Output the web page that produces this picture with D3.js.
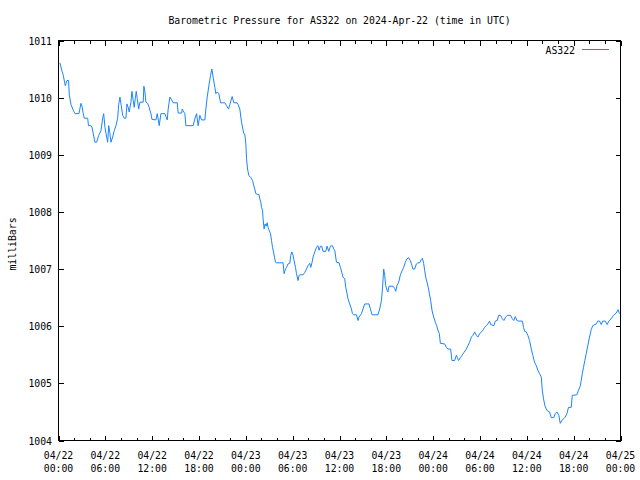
<!DOCTYPE html>
<html><head><meta charset="utf-8">
<script src="https://cdn.jsdelivr.net/npm/d3@7"></script>
<style>body{margin:0;background:#fff}</style>
</head><body>
<svg id="c" width="640" height="480"></svg>
<script>
const title = "Barometric Pressure for AS322 on 2024-Apr-22 (time in UTC)";
const seriesName = "AS322";
const yLabel = "milliBars";
const startUTC = Date.UTC(2024, 3, 22, 0, 0);
const spanHours = 72;
const hours = [0.19,0.38,0.61,0.87,1.09,1.29,1.38,1.6,1.89,2.11,2.62,2.88,3.01,3.17,3.3,3.74,3.84,4.16,4.29,4.45,4.67,4.89,5.15,5.44,5.66,5.79,5.95,6.17,6.3,6.43,6.59,6.72,6.94,7.14,7.36,7.58,7.71,7.87,8.04,8.22,8.42,8.64,8.77,8.93,9.06,9.28,9.41,9.57,9.7,9.83,9.96,10.09,10.27,10.43,10.85,10.94,11.07,11.2,11.42,11.62,11.84,11.97,12.48,12.65,12.9,13.12,13.63,13.76,13.93,14.05,14.27,14.49,14.69,15.21,15.33,15.77,15.85,15.97,16.19,16.32,17.25,17.47,17.69,17.89,18.11,18.33,18.75,18.88,19.05,19.3,19.48,19.65,19.81,20.03,20.16,20.33,20.54,20.76,21.31,21.53,21.79,21.95,22.25,22.46,22.89,23.01,23.23,23.45,23.62,23.74,23.87,24.0,24.09,24.22,24.38,24.64,24.86,25.02,25.15,25.28,25.7,25.79,25.92,26.01,26.14,26.21,26.34,26.47,26.6,26.73,26.85,26.98,27.16,27.29,27.42,27.55,27.67,27.8,27.93,28.77,28.9,29.03,29.21,29.41,29.63,29.76,29.89,30.05,30.18,30.36,30.49,30.69,30.82,31.0,31.33,31.55,31.77,31.97,32.19,32.32,32.49,32.61,32.83,33.05,33.22,33.38,33.56,33.73,33.89,34.24,34.41,34.62,34.84,35.1,35.3,35.39,35.61,35.94,36.12,36.29,36.45,36.67,36.8,36.97,37.09,37.31,37.53,37.66,37.82,38.17,38.37,38.5,38.81,39.01,39.23,39.78,39.96,40.17,40.93,41.15,41.37,41.5,41.66,41.79,41.92,42.09,42.21,42.34,42.85,43.07,43.2,43.37,43.58,43.8,44.06,44.22,44.44,44.65,44.86,45.08,45.29,45.41,45.63,45.85,46.05,46.27,46.49,46.62,46.78,46.91,47.04,47.21,47.42,47.51,47.68,47.85,48.06,48.28,48.45,48.61,48.79,48.92,49.47,49.69,49.89,50.24,50.41,50.75,50.97,51.1,51.26,51.48,51.69,51.94,52.25,52.45,52.67,52.89,53.09,53.31,53.53,53.73,53.95,54.17,54.37,54.59,54.81,55.01,55.23,55.36,55.78,55.96,56.22,56.38,56.64,56.86,57.06,57.28,57.5,57.92,58.14,58.34,58.52,58.73,58.94,59.42,59.58,59.71,59.93,60.13,60.35,60.57,60.77,60.99,61.21,61.41,61.63,61.85,61.98,62.14,62.31,62.49,62.69,62.91,63.13,63.46,63.64,63.85,64.1,64.28,64.49,64.7,64.92,65.13,65.34,65.69,65.82,66.41,66.62,66.84,66.97,67.1,67.26,67.43,67.61,67.81,68.03,68.25,68.45,68.89,69.09,69.31,69.53,69.73,70.04,70.3,70.5,70.81,71.1,71.45,71.69,71.87];
const pressure = [1010.61,1010.5,1010.39,1010.21,1010.3,1010.3,1010.05,1009.88,1009.78,1009.72,1009.72,1009.9,1009.85,1009.72,1009.64,1009.64,1009.51,1009.51,1009.48,1009.37,1009.22,1009.22,1009.34,1009.42,1009.64,1009.72,1009.48,1009.31,1009.22,1009.51,1009.37,1009.22,1009.31,1009.42,1009.51,1009.64,1009.88,1010.01,1009.86,1009.69,1009.64,1009.64,1009.89,1009.83,1009.75,1009.92,1010.11,1009.95,1009.83,1009.98,1010.11,1009.98,1009.8,1009.92,1009.92,1010.2,1010.1,1009.92,1009.9,1009.83,1009.72,1009.62,1009.61,1009.72,1009.51,1009.72,1009.72,1009.67,1009.61,1009.8,1010.01,1009.96,1009.91,1009.91,1009.73,1009.73,1009.8,1009.77,1009.72,1009.51,1009.51,1009.63,1009.72,1009.51,1009.69,1009.61,1009.61,1009.8,1010.01,1010.24,1010.39,1010.5,1010.36,1010.18,1010.07,1010.1,1010.07,1009.91,1009.91,1009.86,1009.8,1009.88,1010.02,1009.91,1009.91,1009.88,1009.8,1009.57,1009.45,1009.37,1009.36,1009.19,1008.93,1008.75,1008.64,1008.6,1008.55,1008.46,1008.4,1008.32,1008.3,1008.23,1008.17,1008.08,1008.03,1007.88,1007.7,1007.79,1007.75,1007.81,1007.73,1007.68,1007.62,1007.5,1007.38,1007.3,1007.21,1007.12,1007.11,1007.11,1006.92,1006.98,1007.03,1007.09,1007.1,1007.24,1007.3,1007.24,1007.15,1007.03,1006.92,1006.8,1006.89,1006.9,1006.9,1006.94,1007.0,1007.06,1007.1,1007.03,1007.12,1007.21,1007.3,1007.38,1007.41,1007.33,1007.4,1007.4,1007.31,1007.31,1007.4,1007.31,1007.4,1007.41,1007.34,1007.33,1007.12,1007.11,1007.03,1006.94,1006.86,1006.83,1006.68,1006.57,1006.48,1006.39,1006.3,1006.22,1006.2,1006.2,1006.1,1006.16,1006.22,1006.3,1006.39,1006.39,1006.3,1006.2,1006.2,1006.3,1006.45,1006.65,1007.0,1006.89,1006.71,1006.63,1006.6,1006.7,1006.7,1006.66,1006.61,1006.71,1006.77,1006.9,1006.98,1007.03,1007.12,1007.18,1007.2,1007.15,1007.06,1007.0,1007.0,1007.09,1007.11,1007.11,1007.17,1007.19,1007.1,1006.98,1006.86,1006.77,1006.65,1006.57,1006.45,1006.28,1006.16,1006.07,1006.01,1005.93,1005.87,1005.7,1005.69,1005.63,1005.6,1005.6,1005.4,1005.4,1005.49,1005.45,1005.4,1005.45,1005.49,1005.54,1005.6,1005.66,1005.72,1005.81,1005.84,1005.9,1005.84,1005.81,1005.87,1005.9,1005.93,1005.98,1006.01,1006.04,1006.09,1006.03,1006.01,1006.09,1006.1,1006.19,1006.19,1006.13,1006.1,1006.16,1006.19,1006.19,1006.13,1006.1,1006.17,1006.1,1006.09,1006.09,1005.98,1005.91,1005.9,1005.84,1005.75,1005.6,1005.49,1005.37,1005.31,1005.23,1005.17,1005.11,1004.88,1004.73,1004.61,1004.55,1004.51,1004.5,1004.4,1004.4,1004.47,1004.5,1004.44,1004.3,1004.35,1004.38,1004.41,1004.47,1004.58,1004.58,1004.79,1004.8,1004.88,1004.95,1005.05,1005.17,1005.28,1005.4,1005.52,1005.66,1005.81,1005.94,1006.01,1006.04,1006.09,1006.09,1006.03,1006.09,1006.09,1006.03,1006.09,1006.13,1006.19,1006.23,1006.29,1006.22];
const yTicks = [1004, 1005, 1006, 1007, 1008, 1009, 1010, 1011];
const xTickHours = [0, 6, 12, 18, 24, 30, 36, 42, 48, 54, 60, 66, 72];
const xTickDates = ["04/22","04/22","04/22","04/22","04/23","04/23","04/23","04/23","04/24","04/24","04/24","04/24","04/25"];
const xTickTimes = ["00:00","06:00","12:00","18:00","00:00","06:00","12:00","18:00","00:00","06:00","12:00","18:00","00:00"];

const H = 3600e3;
const L = 58.5, R = 620.5, T = 40.5, B = 440.5;
const FONT = "'DejaVu Sans Mono', 'Liberation Mono', monospace";
const CW = 5.9;
const svg = d3.select("#c");
svg.append("rect").attr("width", 640).attr("height", 480).attr("fill", "#fff");

const x = d3.scaleUtc().domain([new Date(startUTC), new Date(startUTC + spanHours * H)]).range([L, R]);
const y = d3.scaleLinear().domain([1004, 1011]).range([B, T]);

function txt(g, s) {
  return g.append("text").text(s)
    .attr("font-family", FONT).attr("font-size", 11).attr("fill", "#000")
    .attr("textLength", s.length * CW).attr("lengthAdjust", "spacingAndGlyphs");
}

const minorHours = d3.range(0, spanHours + 1, 2).map(h => new Date(startUTC + h * H));
const majorHours = xTickHours.map(h => new Date(startUTC + h * H));

// ticks via axes (inward)
function styleAxis(g) {
  g.select(".domain").remove();
  g.selectAll("line").attr("stroke", "#000").attr("shape-rendering", "crispEdges");
  g.selectAll("text").remove();
}
svg.append("g").attr("transform", `translate(0,${B})`)
  .call(d3.axisBottom(x).tickValues(minorHours).tickSize(-3)).call(styleAxis);
svg.append("g").attr("transform", `translate(0,${B})`)
  .call(d3.axisBottom(x).tickValues(majorHours).tickSize(-5)).call(styleAxis);
svg.append("g").attr("transform", `translate(0,${T})`)
  .call(d3.axisTop(x).tickValues(minorHours).tickSize(-3)).call(styleAxis);
svg.append("g").attr("transform", `translate(0,${T})`)
  .call(d3.axisTop(x).tickValues(majorHours).tickSize(-5)).call(styleAxis);
svg.append("g").attr("transform", `translate(${L},0)`)
  .call(d3.axisLeft(y).tickValues(yTicks).tickSize(-5)).call(styleAxis);
svg.append("g").attr("transform", `translate(${R},0)`)
  .call(d3.axisRight(y).tickValues(yTicks).tickSize(-5)).call(styleAxis);

// frame
svg.append("rect").attr("x", L).attr("y", T).attr("width", R - L).attr("height", B - T)
  .attr("fill", "none").attr("stroke", "#000").attr("shape-rendering", "crispEdges");

// y labels
yTicks.forEach(v => {
  txt(svg, String(v)).attr("x", 52).attr("y", y(v) + 4).attr("text-anchor", "end");
});
// x labels
xTickHours.forEach((h, i) => {
  const xp = x(new Date(startUTC + h * H));
  txt(svg, xTickDates[i]).attr("x", xp).attr("y", 459).attr("text-anchor", "middle");
  txt(svg, xTickTimes[i]).attr("x", xp).attr("y", 472).attr("text-anchor", "middle");
});

// title
txt(svg, title).attr("x", (L + R) / 2).attr("y", 24).attr("text-anchor", "middle");
// y axis label
txt(svg, yLabel).attr("text-anchor", "middle").attr("transform", "translate(16,244) rotate(-90)");

// series
const data = hours.map((h, i) => ({ t: new Date(startUTC + h * H), v: pressure[i] }));
const line = d3.line().x(d => x(d.t)).y(d => y(d.v));
svg.append("path").datum(data).attr("d", line)
  .attr("fill", "none").attr("stroke", "#1a84ff").attr("stroke-width", 1);

// legend
txt(svg, seriesName).attr("x", 575).attr("y", 54).attr("text-anchor", "end");
svg.append("line").attr("x1", 582).attr("x2", 609).attr("y1", 49.5).attr("y2", 49.5)
  .attr("stroke", "#1a84ff").attr("stroke-width", 1);
</script>
</body></html>
